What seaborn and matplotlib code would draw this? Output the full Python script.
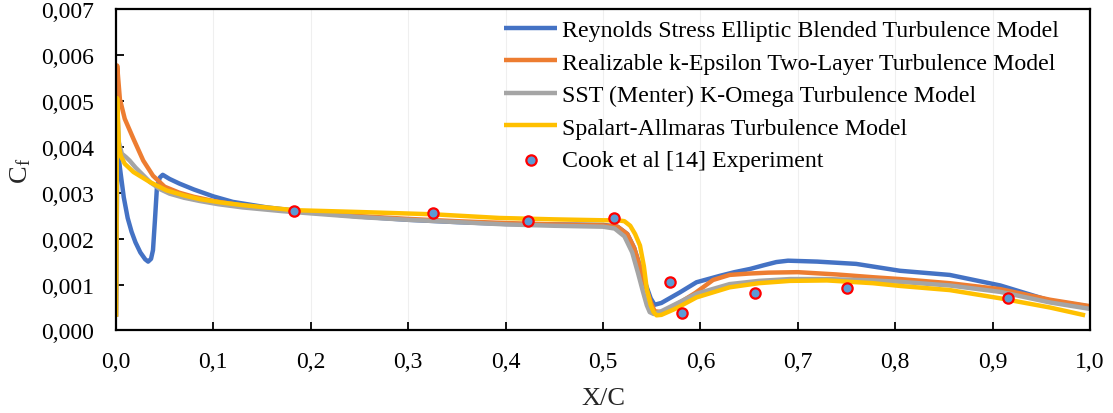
import numpy as np
import pandas as pd
import matplotlib
matplotlib.use("Agg")
import matplotlib.pyplot as plt
from matplotlib.ticker import FuncFormatter, MultipleLocator
import seaborn as sns

# Skin-friction coefficient along the chord, values in units of 1e-3
rs_x = [0.0, 0.0015, 0.004, 0.008, 0.012, 0.016, 0.020, 0.025, 0.030, 0.033, 0.036,
        0.038, 0.040, 0.042, 0.045, 0.048, 0.055, 0.065, 0.080, 0.100, 0.120, 0.155,
        0.200, 0.250, 0.300, 0.350, 0.400, 0.450, 0.500, 0.515, 0.525, 0.532, 0.538,
        0.544, 0.549, 0.553, 0.560, 0.579, 0.596, 0.620, 0.635, 0.651, 0.665, 0.678,
        0.690, 0.720, 0.760, 0.805, 0.856, 0.908, 0.959, 1.000]
rs_cf = [0.30, 4.05, 3.55, 2.90, 2.45, 2.15, 1.92, 1.70, 1.55, 1.50, 1.56,
         1.75, 2.40, 3.10, 3.33, 3.39, 3.30, 3.20, 3.07, 2.92, 2.80, 2.68,
         2.57, 2.48, 2.41, 2.36, 2.32, 2.31, 2.30, 2.26, 2.10, 1.80, 1.40,
         1.00, 0.70, 0.56, 0.60, 0.83, 1.05, 1.19, 1.27, 1.34, 1.42, 1.49,
         1.52, 1.50, 1.45, 1.30, 1.21, 0.98, 0.65, 0.52]

rke_x = [0.0, 0.0012, 0.004, 0.009, 0.018, 0.028, 0.038, 0.050, 0.065, 0.080, 0.100,
         0.130, 0.170, 0.200, 0.250, 0.300, 0.350, 0.400, 0.450, 0.500, 0.515, 0.525,
         0.532, 0.538, 0.544, 0.549, 0.553, 0.560, 0.570, 0.579, 0.595, 0.613, 0.630,
         0.650, 0.670, 0.700, 0.740, 0.777, 0.805, 0.856, 0.908, 0.959, 1.000]
rke_cf = [0.30, 5.77, 5.04, 4.61, 4.17, 3.70, 3.37, 3.13, 3.00, 2.91, 2.82,
          2.72, 2.62, 2.57, 2.49, 2.43, 2.38, 2.34, 2.31, 2.29, 2.26, 2.10,
          1.80, 1.38, 0.95, 0.62, 0.42, 0.40, 0.48, 0.61, 0.82, 1.10, 1.21,
          1.24, 1.26, 1.27, 1.22, 1.16, 1.12, 1.03, 0.90, 0.67, 0.53]

sst_x = [0.0, 0.0012, 0.003, 0.006, 0.010, 0.014, 0.020, 0.028, 0.035, 0.045, 0.055,
         0.070, 0.086, 0.105, 0.130, 0.170, 0.200, 0.250, 0.300, 0.350, 0.400, 0.450,
         0.500, 0.512, 0.522, 0.530, 0.536, 0.541, 0.545, 0.548, 0.552, 0.560, 0.575,
         0.596, 0.630, 0.660, 0.692, 0.730, 0.777, 0.805, 0.856, 0.908, 0.959, 1.000]
sst_cf = [0.30, 4.95, 4.10, 3.85, 3.78, 3.70, 3.55, 3.38, 3.23, 3.08, 2.98,
          2.89, 2.82, 2.75, 2.68, 2.60, 2.55, 2.47, 2.41, 2.36, 2.31, 2.28,
          2.26, 2.22, 2.05, 1.70, 1.25, 0.85, 0.55, 0.40, 0.36, 0.42, 0.58,
          0.80, 1.01, 1.08, 1.12, 1.12, 1.09, 1.06, 0.98, 0.84, 0.61, 0.47]

sa_x = [0.0, 0.0012, 0.002, 0.003, 0.005, 0.009, 0.018, 0.035, 0.052, 0.070, 0.086,
        0.107, 0.130, 0.183, 0.250, 0.326, 0.394, 0.450, 0.500, 0.515, 0.522, 0.528,
        0.533, 0.538, 0.542, 0.545, 0.549, 0.552, 0.555, 0.560, 0.575, 0.596, 0.630,
        0.660, 0.692, 0.730, 0.777, 0.805, 0.856, 0.908, 0.959, 0.995]
sa_cf = [0.30, 5.06, 4.60, 4.00, 3.80, 3.63, 3.45, 3.23, 3.05, 2.94, 2.86,
         2.79, 2.73, 2.62, 2.58, 2.53, 2.45, 2.42, 2.40, 2.40, 2.38, 2.28,
         2.10, 1.85, 1.40, 0.90, 0.55, 0.40, 0.33, 0.34, 0.48, 0.72, 0.94,
         1.03, 1.08, 1.09, 1.03, 0.97, 0.88, 0.70, 0.50, 0.33]

exp_x = [0.183, 0.326, 0.423, 0.511, 0.569, 0.581, 0.656, 0.751, 0.916]
exp_cf = [2.61, 2.56, 2.39, 2.44, 1.05, 0.38, 0.82, 0.92, 0.70]

series = [
    ("Reynolds Stress Elliptic Blended Turbulence Model", rs_x, rs_cf, "#4472C4"),
    ("Realizable k-Epsilon Two-Layer Turbulence Model", rke_x, rke_cf, "#ED7D31"),
    ("SST (Menter) K-Omega Turbulence Model", sst_x, sst_cf, "#A5A5A5"),
    ("Spalart-Allmaras Turbulence Model", sa_x, sa_cf, "#FFC000"),
]

sns.set_theme(style="white")
plt.rcParams["font.family"] = ["Liberation Serif", "DejaVu Serif"]
plt.rcParams["mathtext.fontset"] = "stix"

fig = plt.figure(figsize=(11.13, 4.14), dpi=100)
ax = fig.add_axes([0.1042, 0.1993, 0.8751, 0.7765])

for name, xs, ys, col in series:
    df = pd.DataFrame({"x": xs, "cf": np.array(ys) * 1e-3})
    sns.lineplot(data=df, x="x", y="cf", ax=ax, color=col, linewidth=3.2,
                 label=name, sort=False, estimator=None,
                 solid_capstyle="butt", solid_joinstyle="round")

exp_df = pd.DataFrame({"x": exp_x, "cf": np.array(exp_cf) * 1e-3})
sns.scatterplot(data=exp_df, x="x", y="cf", ax=ax, s=55, color="#5B9BD5",
                edgecolor="#FF0000", linewidth=1.6, zorder=5,
                label="Cook et al [14] Experiment")

ax.set_xlim(0, 1.0)
ax.set_ylim(0, 0.007)
ax.xaxis.set_major_locator(MultipleLocator(0.1))
ax.yaxis.set_major_locator(MultipleLocator(0.001))
ax.xaxis.set_major_formatter(FuncFormatter(lambda v, p: f"{v:.1f}".replace(".", ",")))
ax.yaxis.set_major_formatter(FuncFormatter(lambda v, p: f"{v:.3f}".replace(".", ",")))

ax.grid(axis="x", color="#EFEFEF", linewidth=0.8)
ax.grid(axis="y", visible=False)
for sp in ax.spines.values():
    sp.set_visible(True)
    sp.set_color("black")
    sp.set_linewidth(1.6)

ax.tick_params(axis="both", which="major", direction="in", length=6, width=1.3,
               colors="black", labelsize=17, bottom=True, left=True,
               top=False, right=False)
ax.tick_params(axis="x", pad=14.5)
ax.tick_params(axis="y", pad=15.5)

ax.set_xlabel("X/C", fontsize=19, labelpad=11)
ax.set_ylabel(r"C$_\mathregular{f}$", fontsize=19, labelpad=6)

leg = ax.legend(loc="upper right", frameon=False, fontsize=17.2,
                handlelength=2.2, handletextpad=0.22, labelspacing=0.45,
                borderaxespad=0.0, bbox_to_anchor=(0.978, 0.997))
for t in leg.get_texts():
    t.set_color("black")

fig.savefig("out.png", dpi=100)
